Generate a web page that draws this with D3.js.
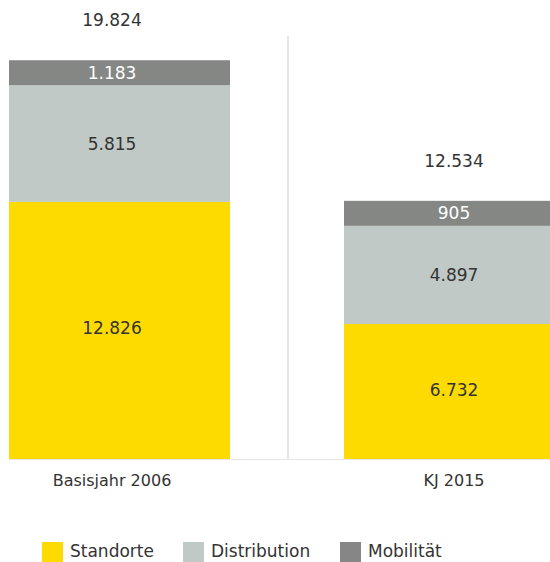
<!DOCTYPE html>
<html>
<head>
<meta charset="utf-8">
<script src="https://cdn.jsdelivr.net/npm/d3@7"></script>
<style>
  body { margin: 0; background: #fff; }
  svg text { font-family: "DejaVu Sans", sans-serif; fill: #333; }
</style>
</head>
<body>
<svg id="drawing_region" width="550" height="562"></svg>
<script>
// data
const categories = ["Basisjahr 2006", "KJ 2015"];
const seriesNames = ["Standorte", "Distribution", "Mobilität"];
const standorte = [12826, 6732];
const distribution = [5815, 4897];
const mobilitaet = [1183, 905];
const totals = [19824, 12534];

const colors = ["#FEDB00", "#C1C9C7", "#848784"];
const labelColors = ["#333", "#333", "#fff"];

const svg = d3.select('#drawing_region');
const baseY = 459;
const minSeg = 25; // smallest segment is drawn at least this tall

const y = d3.scaleLinear().domain([0, 20000]).range([baseY, 58]);
// bars: 9..230 and 344..565 (second one runs off the page)
const xBar = d3.scaleBand().domain(categories).range([9, 565]).paddingInner(114 / 335).paddingOuter(0);
// label centres
const xLab = d3.scaleBand().domain(categories).range([-59, 625]).padding(0);

const fmt = v => d3.format(",")(v).replace(/,/g, ".");

const rows = categories.map((c, i) => ({ cat: c, vals: [standorte[i], distribution[i], mobilitaet[i]], total: totals[i] }));

// separator and baseline
svg.append('line')
    .attr('x1', 288).attr('x2', 288)
    .attr('y1', 36).attr('y2', baseY)
    .attr('stroke', '#e6e6e6').attr('stroke-width', 2);
svg.append('line')
    .attr('x1', 9).attr('x2', 550)
    .attr('y1', baseY + 0.5).attr('y2', baseY + 0.5)
    .attr('stroke', '#e6e6e6').attr('stroke-width', 1);

rows.forEach(r => {
    let cum = 0;
    let top = baseY;
    const lx = xLab(r.cat) + xLab.bandwidth() / 2;
    r.vals.forEach((v, k) => {
        const h = Math.max(y(cum) - y(cum + v), minSeg);
        const y0 = (k === 0) ? y(cum) : top;
        const yTop = y0 - h;
        svg.append('rect')
            .attr('x', xBar(r.cat))
            .attr('y', yTop)
            .attr('width', xBar.bandwidth())
            .attr('height', h)
            .attr('fill', colors[k]);
        svg.append('text')
            .attr('x', lx)
            .attr('y', yTop + h / 2 - (k === 0 ? 2 : 0))
            .attr('text-anchor', 'middle')
            .attr('dominant-baseline', 'central')
            .style('font-size', '17px')
            .style('fill', labelColors[k])
            .text(fmt(v));
        cum += v;
        top = yTop;
    });
    // total label
    svg.append('text')
        .attr('x', lx)
        .attr('y', top - 40)
        .attr('text-anchor', 'middle')
        .attr('dominant-baseline', 'central')
        .style('font-size', '17px')
        .text(fmt(r.total));
    // category label
    svg.append('text')
        .attr('x', lx)
        .attr('y', 480)
        .attr('text-anchor', 'middle')
        .attr('dominant-baseline', 'central')
        .style('font-size', '16px')
        .text(r.cat);
});

// legend
const legendX = [42, 183, 340];
seriesNames.forEach((s, k) => {
    svg.append('rect')
        .attr('x', legendX[k]).attr('y', 542)
        .attr('width', 21).attr('height', 21)
        .attr('fill', colors[k]);
    svg.append('text')
        .attr('x', legendX[k] + 28)
        .attr('y', 551)
        .attr('dominant-baseline', 'central')
        .style('font-size', '17px')
        .text(s);
});
</script>
</body>
</html>
